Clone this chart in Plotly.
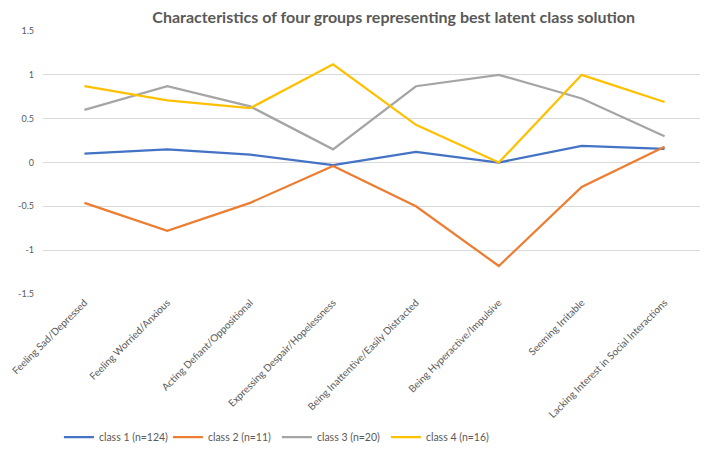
import plotly.graph_objects as go

categories = [
    "Feeling Sad/Depressed",
    "Feeling Worried/Anxious",
    "Acting Defiant/Oppositional",
    "Expressing Despair/Hopelessness",
    "Being Inattentive/Easily Distracted",
    "Being Hyperactive/Impulsive",
    "Seeming Irritable",
    "Lacking Interest in Social Interactions",
]
class1 = [0.10, 0.15, 0.09, -0.03, 0.12, 0.0, 0.19, 0.155]
class2 = [-0.46, -0.78, -0.46, -0.04, -0.50, -1.18, -0.28, 0.18]
class3 = [0.60, 0.87, 0.64, 0.15, 0.87, 1.0, 0.73, 0.30]
class4 = [0.87, 0.71, 0.62, 1.12, 0.43, 0.0, 1.0, 0.69]
series_names = ["class 1 (n=124)", "class 2 (n=11)", "class 3 (n=20)", "class 4 (n=16)"]
colors = ["#4472C4", "#ED7D31", "#A5A5A5", "#FFC000"]
y_ticks = [-1.5, -1, -0.5, 0, 0.5, 1, 1.5]

fig = go.Figure()
for name, vals, c in zip(series_names, [class1, class2, class3, class4], colors):
    fig.add_trace(go.Scatter(x=categories, y=vals, mode="lines", name=name,
                             line=dict(color=c, width=2.25)))

fig.update_layout(
    width=700, height=452,
    margin=dict(l=35, r=2, t=23, b=166),
    paper_bgcolor="white", plot_bgcolor="white",
    font=dict(family="Lato, Open Sans, sans-serif", color="#595959", size=10),
    title=dict(text="<b>Characteristics of four groups representing best latent class solution</b>",
               x=0.551, xanchor="center", y=0.979, yanchor="middle",
               font=dict(size=16, color="#595959", family="Lato, Open Sans, sans-serif")),
    xaxis=dict(type="category", range=[-0.5, len(categories) - 0.5], automargin=False,
               tickangle=-45, showgrid=False, zeroline=False,
               showline=False, ticks="", tickfont=dict(size=10, color="#595959")),
    yaxis=dict(range=[-1.5, 1.5], tickvals=y_ticks, ticktext=[str(v) for v in y_ticks],
               automargin=False,
               gridcolor="#D9D9D9", gridwidth=1, zeroline=False, showline=False,
               tickfont=dict(size=9, color="#595959"), ticklabelstandoff=8),
    legend=dict(orientation="h", x=0.024, xanchor="left", y=-0.544, yanchor="middle",
                font=dict(size=10.5, color="#595959"),
                entrywidth=64, entrywidthmode="pixels"),
    showlegend=True,
)

fig.write_html("out.html")
